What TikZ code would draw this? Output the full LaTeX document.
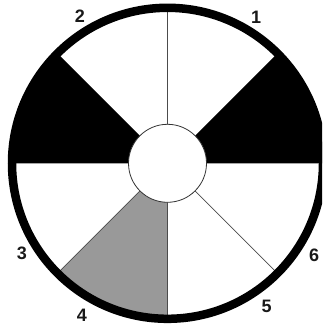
\documentclass[tikz,border=0pt]{standalone}
\usepackage{fontspec}
\setmainfont{Liberation Sans}
\begin{document}
\begin{tikzpicture}[x=1pt,y=1pt,
  lab/.style={font=\fontsize{18}{18}\selectfont\bfseries, inner sep=0pt, text=black!90},
  spoke/.style={line width=0.7pt, draw=black!70},
  rimline/.style={line width=8.5pt, draw=black},
  hub/.style={fill=white, draw=black!80, line width=0.8pt}]
\useasboundingbox (0,0) rectangle (322,328);
\clip (0,0) rectangle (322,328);
\fill[white] (0,0) rectangle (322,328);
\coordinate (c) at (167.5,164.7);
% sectors
\fill[black] (c) -- ++(0:156) arc[start angle=0, end angle=45, radius=156] -- cycle;
\fill[black] (c) -- ++(135:156) arc[start angle=135, end angle=180, radius=156] -- cycle;
\filldraw[fill=black!40, spoke] (c) -- ++(225:156) arc[start angle=225, end angle=270, radius=156] -- cycle;
% thin spokes
\draw[spoke] (c) -- ++(90:156);
\draw[spoke] (c) -- ++(-45:156);
% rim and hub
\draw[rimline] (c) circle[radius=155.5];
\path[hub] (c) circle[radius=39];
% labels
\node[lab] (l1) at (256,311) {1};
\node[lab] (l2) at (80,312) {2};
\node[lab] (l3) at (22,75) {3};
\node[lab] (l4) at (82,12.5) {4};
\node[lab] (l5) at (266.5,21.5) {5};
\node[lab] (l6) at (314,73) {6};
\end{tikzpicture}
\end{document}
